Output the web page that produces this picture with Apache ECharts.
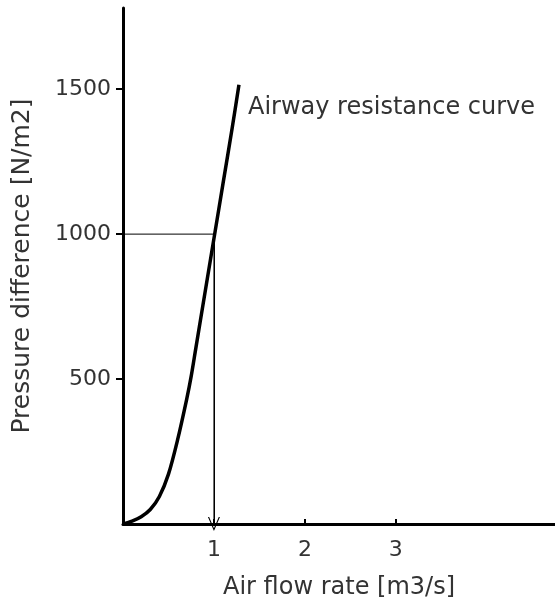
<!DOCTYPE html>
<html><head><meta charset="utf-8">
<script src="https://cdn.jsdelivr.net/npm/echarts@6/dist/echarts.min.js"></script>
<style>html,body{margin:0;padding:0;background:#fff}#c{width:555px;height:605px}</style>
</head><body><div id="c"></div>
<script>
const flowRate = [0, 0.1, 0.2, 0.3, 0.4, 0.5, 0.6, 0.7, 0.75, 0.8, 0.9, 1.0, 1.1, 1.2, 1.275];
const pressure = [0, 10, 25, 50, 95, 172, 290, 430, 510, 605, 795, 985, 1175, 1365, 1515];
const guideX = [0, 1, 1];
const guideY = [1000, 1000, 0];
const xTicks = [1, 2, 3];
const yTicks = [500, 1000, 1500];
const curveLabel = 'Airway resistance curve';

const font = 'DejaVu Sans';
const txt = '#333';
const chart = echarts.init(document.getElementById('c'));
chart.setOption({
  animation: false,
  grid: {left: 123, right: 0, top: 8, bottom: 81},
  xAxis: {
    type: 'value', min: 0, max: 4.75, interval: 1,
    name: 'Air flow rate [m3/s]', nameLocation: 'middle', nameGap: 52,
    nameTextStyle: {fontFamily: font, fontSize: 24, color: txt},
    axisLine: {lineStyle: {color: '#000', width: 3}},
    axisTick: {customValues: xTicks, length: 5, inside: true, lineStyle: {color: '#000', width: 2}},
    axisLabel: {customValues: xTicks, fontFamily: font, fontSize: 22, color: txt, margin: 15,
                formatter: v => String(v)},
    splitLine: {show: false}
  },
  yAxis: {
    type: 'value', min: 0, max: 1780, interval: 500,
    name: 'Pressure difference [N/m2]', nameLocation: 'middle', nameGap: 88, nameRotate: 90,
    nameTextStyle: {fontFamily: font, fontSize: 25, color: txt},
    axisLine: {lineStyle: {color: '#000', width: 3}},
    axisTick: {customValues: yTicks, length: 7, lineStyle: {color: '#000', width: 2}},
    axisLabel: {customValues: yTicks, fontFamily: font, fontSize: 22, color: txt, margin: 12,
                formatter: v => String(v)},
    splitLine: {show: false}
  },
  series: [
    {
      type: 'line', data: flowRate.map((x, i) => [x, pressure[i]]),
      smooth: 0.3, symbol: 'none',
      lineStyle: {color: '#000', width: 3.5}
    },
    {
      type: 'line', data: guideX.map((x, i) => [x, guideY[i]]),
      symbol: 'none', lineStyle: {color: '#000', width: 1},
      markLine: {
        silent: true,
        symbol: ['none', 'path://M0,10 L5,0 L10,10 L9,10 L5,2 L1,10 Z'],
        symbolSize: [12, 14],
        lineStyle: {color: '#000', width: 1, type: 'solid'},
        label: {show: false},
        data: [[{coord: [guideX[1], guideY[1]]}, {coord: [guideX[2], guideY[2]]}]]
      }
    }
  ],
  graphic: [{
    type: 'text', left: 248, top: 96,
    style: {text: curveLabel, fontFamily: font, fontSize: 24, fill: txt}
  }]
});
</script></body></html>
